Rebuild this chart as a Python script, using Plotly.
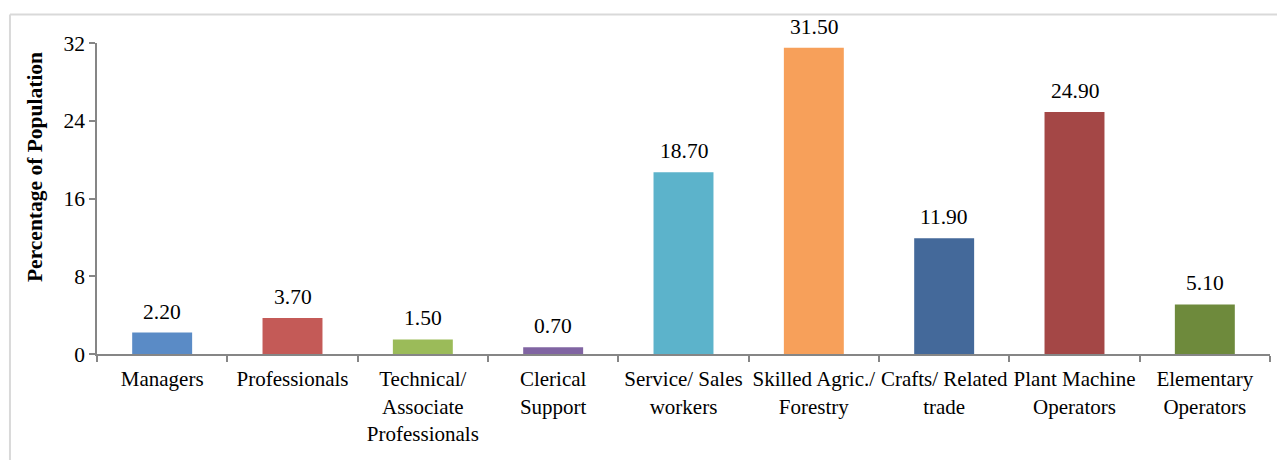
import plotly.graph_objects as go

categories = [
    "Managers",
    "Professionals",
    "Technical/<br>Associate<br>Professionals",
    "Clerical<br>Support",
    "Service/ Sales<br>workers",
    "Skilled Agric./<br>Forestry",
    "Crafts/ Related<br>trade",
    "Plant Machine<br>Operators",
    "Elementary<br>Operators",
]
values = [2.20, 3.70, 1.50, 0.70, 18.70, 31.50, 11.90, 24.90, 5.10]
bar_colors = ["#5a8bc6", "#c45a57", "#9bbb59", "#8064a2", "#5cb3cb",
              "#f7a05a", "#44699a", "#a44746", "#6e8a3c"]
y_ticks = [0, 8, 16, 24, 32]
y_title = "Percentage of Population"

FONT = "Liberation Serif, Times New Roman, serif"
FS = 21.5

fig = go.Figure()
fig.add_trace(go.Bar(
    x=categories,
    y=values,
    marker=dict(color=bar_colors, line=dict(width=0)),
    width=0.46,
    hoverinfo="skip",
))

for c, v in zip(categories, values):
    fig.add_annotation(
        x=c, y=v, text=f"{v:.2f}", showarrow=False,
        yanchor="bottom", yshift=7,
        font=dict(family=FONT, size=FS, color="#000000"),
    )

# y-axis title
fig.add_annotation(
    xref="paper", yref="paper", x=-0.0529, y=0.601,
    text=f"<b>{y_title}</b>", textangle=-90, showarrow=False,
    xanchor="center", yanchor="middle",
    font=dict(family=FONT, size=FS, color="#000000"),
)

# outer chart border (partially visible, light grey)
fig.add_shape(type="line", xref="paper", yref="paper",
              x0=-0.0742, x1=1.01, y0=1.0916, y1=1.0916,
              line=dict(color="#d9d9d9", width=2))
fig.add_shape(type="line", xref="paper", yref="paper",
              x0=-0.0742, x1=-0.0742, y0=1.0916, y1=-0.36,
              line=dict(color="#d9d9d9", width=2))

fig.update_layout(
    width=1277, height=460,
    margin=dict(l=97, r=7, t=43, b=106, autoexpand=False),
    paper_bgcolor="white", plot_bgcolor="white",
    showlegend=False,
    font=dict(family=FONT, size=FS, color="#000000"),
    bargap=0.54,
)
fig.update_xaxes(
    type="category",
    automargin=False,
    tickangle=0,
    showline=True, linecolor="#868686", linewidth=2,
    ticks="outside", ticklen=6, tickcolor="#868686", tickwidth=1.5,
    tickson="boundaries",
    showgrid=False,
    tickfont=dict(family=FONT, size=21, color="#000000"),
    ticklabelstandoff=5,
)
fig.update_yaxes(
    range=[0, 32],
    automargin=False,
    tickvals=y_ticks,
    ticktext=[str(t) for t in y_ticks],
    showline=True, linecolor="#868686", linewidth=1.5,
    ticks="outside", ticklen=6, tickcolor="#868686", tickwidth=1.5,
    showgrid=False, zeroline=False,
    tickfont=dict(family=FONT, size=FS, color="#000000"),
)

fig.write_html("out.html",
               config={"displayModeBar": False},
               post_script="document.body.style.margin='0';document.body.style.overflow='hidden';")
